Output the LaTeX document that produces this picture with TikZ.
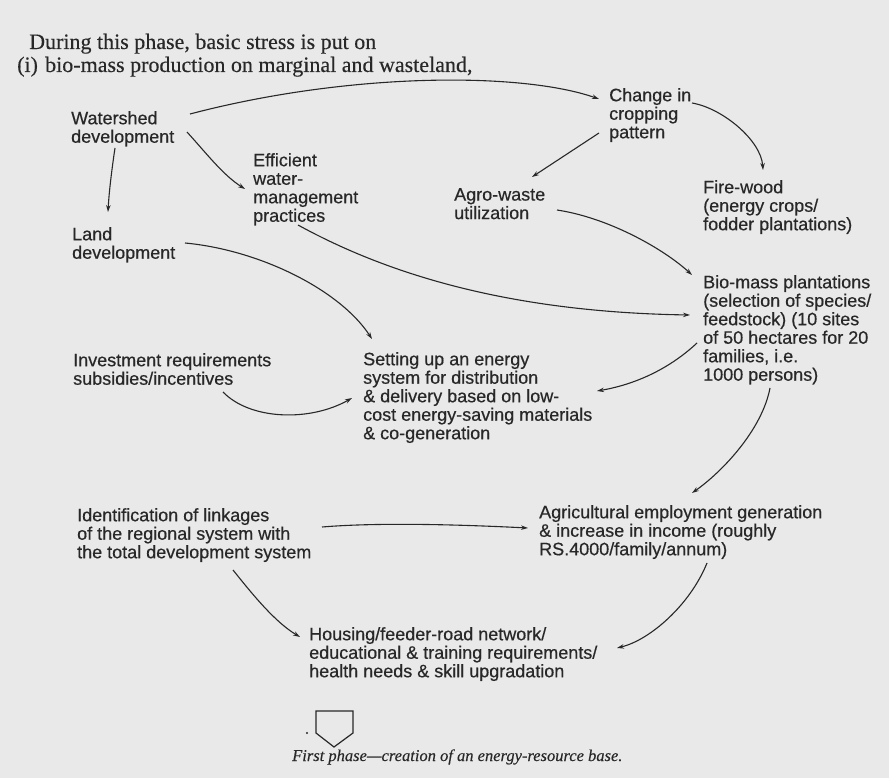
\documentclass[tikz,border=0pt]{standalone}
\usepackage{fontspec}
\setmainfont{Liberation Serif}
\newfontfamily\headfont[FakeBold=0.3]{Liberation Serif}
\newfontfamily\diagfont[FakeBold=0.5]{Liberation Sans}
\usetikzlibrary{arrows.meta,calc}
\definecolor{paper}{HTML}{E9E9E9}
\definecolor{ink}{HTML}{282828}
\begin{document}
\begin{tikzpicture}[x=1pt,y=-1pt,
  lbl/.style={anchor=north west,inner sep=0pt,align=left,text=ink,
    font=\diagfont\fontsize{18}{18.5}\selectfont},
  headtxt/.style={anchor=base west,inner sep=0pt,text=ink,
    font=\headfont\fontsize{22}{23}\selectfont},
  link/.style={draw=ink,line width=1.1pt,-{Stealth[length=7pt,width=4.5pt]}},
  ]
\fill[paper] (0,0) rectangle (889,778);
\useasboundingbox (0,0) rectangle (889,778);

% heading
\node[headtxt] (hd1) at (29,49) {During this phase, basic stress is put on};
\node[headtxt] (hd2a) at (17,72) {(i)};
\node[headtxt] (hd2b) at (45,72) {bio-mass production on marginal and wasteland,};

% diagram labels
\node[lbl] (ws) at (71,111) {Watershed\\development};
\node[lbl] (eff) at (253,153) {Efficient\\water-\\management\\practices};
\node[lbl] (chg) at (609,88) {Change in\\cropping\\pattern};
\node[lbl] (agro) at (454,188) {Agro-waste\\utilization};
\node[lbl] (fire) at (703,180) {Fire-wood\\(energy crops/\\fodder plantations)};
\node[lbl] (land) at (72,227) {Land\\development};
\node[lbl] (bio) at (703,275) {Bio-mass plantations\\(selection of species/\\feedstock) (10 sites\\of 50 hectares for 20\\families, i.e.\\1000 persons)};
\node[lbl] (inv) at (73,353) {Investment requirements\\subsidies/incentives};
\node[lbl] (setup) at (363,352) {Setting up an energy\\system for distribution\\\& delivery based on low-\\cost energy-saving materials\\\& co-generation};
\node[lbl] (ident) at (77,508) {Identification of linkages\\of the regional system with\\the total development system};
\node[lbl] (agri) at (539,505) {Agricultural employment generation\\\& increase in income (roughly\\RS.4000/family/annum)};
\node[lbl] (house) at (309,627) {Housing/feeder-road network/\\educational \& training requirements/\\health needs \& skill upgradation};

% connectors
\draw[link] ($(ws.north west)+(119,3)$) .. controls +(160,-42) and +(-77,-27) .. ($(chg.north west)+(-10,11)$);
\draw[link] ($(ws.north west)+(44,37)$) .. controls +(-3,20) and +(1,-20) .. ($(land.north west)+(36,-15)$);
\draw[link] ($(ws.north west)+(116,21)$) .. controls +(20,22) and +(-22,-14) .. ($(eff.north west)+(-8,36)$);
\draw[link] ($(chg.north west)+(83,15)$) .. controls +(30,5) and +(-2,-30) .. ($(fire.north west)+(60,-10)$);
\draw[link] ($(chg.north west)+(-10,45)$) -- ($(agro.north west)+(78,-11)$);
\draw[link] ($(agro.north west)+(103,22)$) .. controls +(53,8) and +(-27,-25) .. ($(bio.north west)+(-11,0)$);
\draw[link] ($(eff.north west)+(45,72)$) .. controls +(82,45) and +(-190,-3) .. ($(bio.north west)+(-13,40)$);
\draw[link] ($(land.north west)+(113,16)$) .. controls +(75,7) and +(-32,-49) .. ($(setup.north west)+(9,-13)$);
\draw[link] ($(inv.north west)+(150,39)$) .. controls +(27,28) and +(-42,24) .. ($(setup.north west)+(-11,46)$);
\draw[link] ($(bio.north west)+(-6,68)$) .. controls +(-30,28) and +(35,-6) .. ($(setup.north west)+(234,39)$);
\draw[link] ($(bio.north west)+(67,113)$) .. controls +(-8,42) and +(30,-21) .. ($(agri.north west)+(153,-12)$);
\draw[link] ($(ident.north west)+(245,19)$) .. controls +(60,-5) and +(-60,-3) .. ($(agri.north west)+(-11,23)$);
\draw[link] ($(ident.north west)+(156,62)$) .. controls +(20,25) and +(-25,-15) .. ($(house.north west)+(-9,10)$);
\draw[link] ($(agri.north west)+(168,58)$) .. controls +(-17,42) and +(33,-8) .. ($(house.north west)+(308,21)$);

% closing symbol and caption
\draw[ink,line width=1.2pt,line join=miter] (316,711) -- (353,711) -- (353,733) -- (334,747) -- (316,733) -- cycle;
\fill[ink] (307,733) circle (1.2);
\node[anchor=base west,inner sep=0pt,text=ink,font=\headfont\itshape\fontsize{16.5}{18}\selectfont] (cap) at (292,761) {First phase—creation of an energy-resource base.};
\end{tikzpicture}
\end{document}
